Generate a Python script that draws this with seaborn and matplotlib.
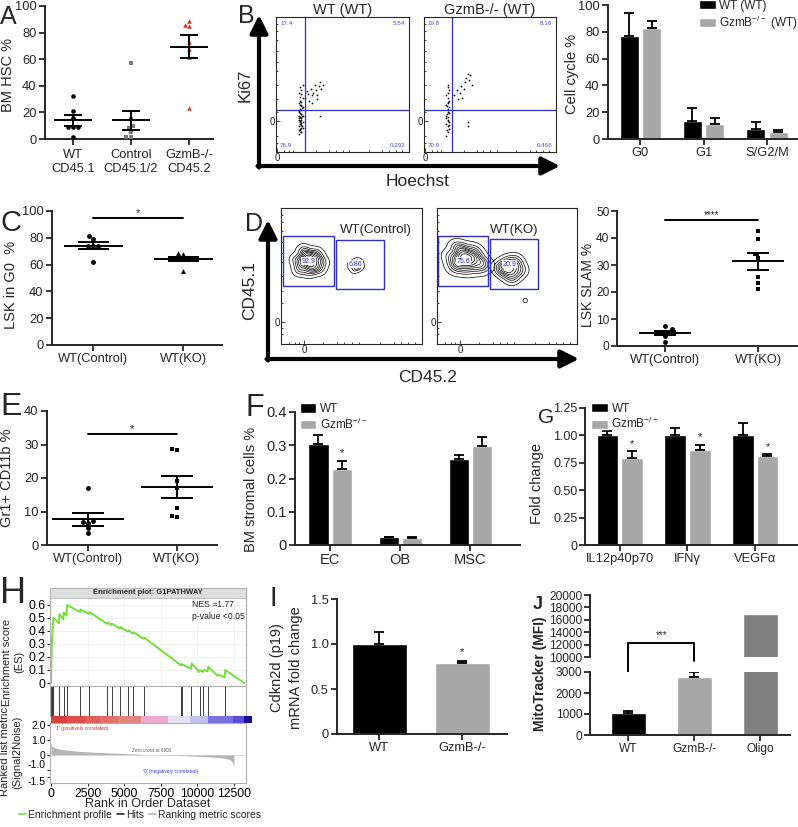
"""
Multi-panel GzmB / HSC figure (panels A-J).
"""

import matplotlib
matplotlib.use('Agg')
import matplotlib.pyplot as plt
from matplotlib.patches import Rectangle
from matplotlib.lines import Line2D
import seaborn as sns
import pandas as pd

sns.set_style("ticks")
plt.rcParams['font.family'] = ['Liberation Sans', 'DejaVu Sans']
plt.rcParams['mathtext.default'] = 'regular'
plt.rcParams['axes.linewidth'] = 1.3

BLACK = '#000000'
GRAY = '#a7a7a7'
DARK = '#808080'
RED = '#d6361c'
BLUE = '#3030c8'

# ---------------- data ----------------
# A: BM HSC %
a_labels = ['WT\nCD45.1', 'Control\nCD45.1/2', 'GzmB-/-\nCD45.2']
a_wt = [32, 21, 16, 9, 9, 9, 1.5]
a_ctrl = [57, 15, 10, 8, 5, 1.5, 1.5]
a_ko = [89, 86, 85, 73, 68, 62, 23]

# B: flow (Hoechst vs Ki67, axis fraction units) and quadrant percentages (UL, UR, LL, LR)
b_quads_wt = ['17.4', '5.54', '76.9', '0.292']
b_quads_ko = ['19.8', '8.16', '70.9', '0.466']
b_wt_hoechst = [0.17, 0.19, 0.18, 0.20, 0.17, 0.19, 0.18, 0.20, 0.18, 0.19, 0.17, 0.19,
                0.18, 0.20, 0.19, 0.18, 0.17, 0.19, 0.18, 0.20, 0.19, 0.18, 0.17, 0.19,
                0.18, 0.20, 0.18, 0.19, 0.17, 0.19, 0.18, 0.20, 0.18, 0.19, 0.17, 0.18,
                0.185, 0.175, 0.195, 0.185, 0.175, 0.195, 0.185, 0.175, 0.195, 0.185,
                0.22, 0.23, 0.25, 0.26, 0.27, 0.28, 0.29, 0.30, 0.31, 0.32, 0.33, 0.34,
                0.35, 0.24, 0.27, 0.31, 0.33]
b_wt_ki67 = [0.13, 0.15, 0.17, 0.18, 0.19, 0.20, 0.21, 0.22, 0.23, 0.24, 0.25, 0.25,
             0.26, 0.27, 0.28, 0.29, 0.30, 0.31, 0.32, 0.33, 0.34, 0.35, 0.36, 0.37,
             0.38, 0.40, 0.41, 0.43, 0.44, 0.46, 0.48, 0.50, 0.22, 0.18, 0.27, 0.16,
             0.145, 0.165, 0.195, 0.215, 0.235, 0.265, 0.285, 0.305, 0.325, 0.345,
             0.40, 0.45, 0.38, 0.47, 0.42, 0.44, 0.50, 0.46, 0.42, 0.49, 0.52, 0.47,
             0.50, 0.43, 0.36, 0.39, 0.27]
b_ko_hoechst = [0.17, 0.18, 0.19, 0.18, 0.17, 0.19, 0.18, 0.18, 0.17, 0.19, 0.18, 0.18,
                0.19, 0.17, 0.18, 0.19, 0.18, 0.17, 0.18, 0.19, 0.18, 0.18, 0.17, 0.19,
                0.175, 0.185, 0.175, 0.185, 0.175, 0.185,
                0.23, 0.25, 0.27, 0.28, 0.30, 0.31, 0.32, 0.33, 0.34, 0.35, 0.36, 0.26,
                0.29, 0.33, 0.33]
b_ko_ki67 = [0.12, 0.15, 0.17, 0.19, 0.21, 0.22, 0.24, 0.26, 0.27, 0.29, 0.30, 0.32,
             0.33, 0.35, 0.36, 0.38, 0.40, 0.42, 0.44, 0.46, 0.48, 0.50, 0.25, 0.20,
             0.16, 0.23, 0.28, 0.31, 0.34, 0.37,
             0.42, 0.46, 0.44, 0.49, 0.47, 0.52, 0.55, 0.58, 0.53, 0.57, 0.50, 0.39,
             0.40, 0.22, 0.19]

# B: cell cycle bars
b_phases = ['G0', 'G1', 'S/G2/M']
b_wt = [77, 13.5, 7.5]
b_wt_err = [17, 10, 5.5]
b_ko = [82.5, 11.5, 5]
b_ko_err = [5.5, 4.5, 1.5]

# C: LSK in G0
c_labels = ['WT(Control)', 'WT(KO)']
c_ctrl = [81, 79, 74, 74, 74, 62]
c_ko = [69, 68, 65, 64, 64, 64, 55]

# D: flow contours (CD45.2 vs CD45.1, axis fraction units)
d_ctrl_main_x = [0.20, 0.14, 0.26, 0.18, 0.23, 0.11, 0.29, 0.20, 0.16, 0.25, 0.21, 0.13, 0.27, 0.19, 0.22, 0.17]
d_ctrl_main_y = [0.61, 0.58, 0.63, 0.66, 0.56, 0.62, 0.60, 0.53, 0.69, 0.67, 0.64, 0.54, 0.55, 0.60, 0.59, 0.62]
d_ctrl_minor_x = [0.50, 0.53, 0.56, 0.52, 0.55, 0.54]
d_ctrl_minor_y = [0.58, 0.60, 0.57, 0.55, 0.60, 0.56]
d_ko_main_x = [0.20, 0.12, 0.28, 0.17, 0.24, 0.10, 0.32, 0.21, 0.15, 0.26, 0.19, 0.13, 0.30, 0.22, 0.18, 0.25, 0.16, 0.34]
d_ko_main_y = [0.64, 0.60, 0.66, 0.70, 0.58, 0.65, 0.61, 0.54, 0.72, 0.70, 0.66, 0.55, 0.55, 0.62, 0.63, 0.63, 0.59, 0.58]
d_ko_minor_x = [0.52, 0.47, 0.57, 0.50, 0.55, 0.44, 0.60, 0.53, 0.49, 0.56]
d_ko_minor_y = [0.56, 0.53, 0.58, 0.61, 0.51, 0.57, 0.54, 0.48, 0.55, 0.62]
d_ko_outlier = (0.63, 0.32)
d_gates_ctrl = [(0.017, 0.429, 0.377, 0.795), (0.389, 0.405, 0.727, 0.763)]
d_gates_ko = [(0.007, 0.429, 0.367, 0.795), (0.38, 0.405, 0.72, 0.771)]
d_pcts_ctrl = ['92.9', '6.86']
d_pcts_ko = ['75.6', '20.9']

# D: LSK SLAM %
d_ctrl = [7.4, 6.3, 5.3, 5.0, 3.8, 1.6]
d_ko = [42.7, 39.8, 34.0, 32.6, 25.6, 23.5, 21.2]

# E: Gr1+ CD11b %
e_ctrl = [17.1, 7.1, 6.9, 6.5, 5.0, 3.5]
e_ko = [28.8, 28.4, 19.2, 16.9, 10.9, 8.6, 8.4]

# F: BM stromal cells
f_cells = ['EC', 'OB', 'MSC']
f_wt = [0.305, 0.023, 0.258]
f_wt_err = [0.025, 0.002, 0.014]
f_ko = [0.23, 0.021, 0.299]
f_ko_err = [0.022, 0.002, 0.026]

# G: fold change
g_genes = ['IL12p40p70', 'IFNγ', 'VEGFα']
g_wt = [1.0, 1.0, 1.0]
g_wt_err = [0.037, 0.068, 0.113]
g_ko = [0.795, 0.868, 0.81]
g_ko_err = [0.061, 0.048, 0.021]

# H: GSEA G1PATHWAY
h_es_rank = [0, 50, 160, 540, 580, 840, 880, 1050, 1100, 1980, 2020, 2600, 2640, 3820,
             3860, 4120, 4160, 4700, 4740, 5250, 5290, 5600, 5640, 6320, 6360, 8880,
             8920, 9560, 9600, 10130, 10170, 10380, 10420, 10700, 10740, 11380, 11420,
             11860, 11900, 13200]
h_es = [0, 0.28, 0.50, 0.46, 0.53, 0.49, 0.54, 0.52, 0.60, 0.545, 0.565, 0.53, 0.545,
        0.455, 0.465, 0.445, 0.455, 0.42, 0.43, 0.395, 0.405, 0.38, 0.39, 0.34, 0.35,
        0.135, 0.145, 0.11, 0.15, 0.085, 0.10, 0.085, 0.10, 0.09, 0.125, 0.055, 0.065,
        0.045, 0.10, 0.0]
h_hits = [20, 45, 70, 95, 120, 145, 170, 560, 860, 1075, 2000, 2620, 3840, 4140, 4720,
          5270, 5620, 6340, 8900, 8950, 9580, 10150, 10400, 10720, 11880]
h_metric_rank = [0, 50, 200, 500, 1000, 2000, 3000, 4000, 5000, 6000, 6900, 8000, 9000,
                 10000, 11000, 11800, 12200, 12400, 12500]
h_metric = [0.8, 0.6, 0.48, 0.4, 0.32, 0.22, 0.17, 0.12, 0.08, 0.04, 0.0, -0.03, -0.06,
            -0.1, -0.15, -0.22, -0.32, -0.5, -0.85]
h_cbar_edges = [0, 1070, 2320, 3340, 4590, 6180, 8000, 9480, 10730, 12430, 13180, 13750]
h_cbar_colors = ['#d6403a', '#d9504a', '#dd605a', '#e07068', '#e2847c', '#ecaad0',
                 '#e4e0f6', '#c4c0ee', '#7b70e2', '#5a4cd8', '#1c0c9e']

# I: Cdkn2d
i_groups = ['WT', 'GzmB-/-']
i_vals = [1.0, 0.785]
i_err = [0.13, 0.03]

# J: MitoTracker
j_groups = ['WT', 'GzmB-/-', 'Oligo']
j_vals = [1050, 2780, 17000]
j_err = [80, 200, 0]
j_bracket = {'top': 12250, 'wt_leg': 1900, 'ko_leg': 9400}

# ---------------- helpers ----------------
W, H = 798, 827


def add_ax(fig, left, top, right, bottom):
    """Axes from a pixel box (origin top-left)."""
    return fig.add_axes([left / W, 1 - bottom / H, (right - left) / W, (bottom - top) / H])


def prism_axes(ax, labelsize=9.3):
    sns.despine(ax=ax)
    for s in ['left', 'bottom']:
        ax.spines[s].set_linewidth(1.4)
    ax.tick_params(axis='both', width=1.3, length=4, labelsize=labelsize, pad=2)
    ax.set_xlabel('')
    ax.set_ylabel('')


def dot_panel(ax, order, groups, markers, colors, size=3.4, mean_hw=0.33, sem_hw=0.15):
    rows = []
    for name, vals in zip(order, groups):
        rows += [(name, v) for v in vals]
    df = pd.DataFrame(rows, columns=['group', 'value'])
    for name, m, c in zip(order, markers, colors):
        sns.swarmplot(data=df[df['group'] == name], x='group', y='value', order=order,
                      marker=m, color=c, size=size, ax=ax)
    stats = df.groupby('group', sort=False)['value'].agg(['mean', 'sem'])
    for i, name in enumerate(order):
        mu, se = stats.loc[name, 'mean'], stats.loc[name, 'sem']
        ax.hlines(mu, i - mean_hw, i + mean_hw, color='black', lw=1.4, zorder=5)
        ax.hlines([mu - se, mu + se], i - sem_hw, i + sem_hw, color='black', lw=1.4, zorder=5)
        ax.vlines(i, mu - se, mu + se, color='black', lw=1.4, zorder=5)
    prism_axes(ax)


def sig_bar(ax, y, text, size=8):
    ax.plot([0, 1], [y, y], color='black', lw=1.4)
    ax.text(0.5, y, text, ha='center', va='bottom', fontsize=size)


def upper_errors(ax, bars, errs):
    tops = []
    for bar, e in zip(bars, errs):
        x = bar.get_x() + bar.get_width() / 2
        if e > 0:
            ax.errorbar(x, bar.get_height(), yerr=[[0], [e]], fmt='none', ecolor='black',
                        elinewidth=1.3, capsize=3.5, capthick=1.3, zorder=4)
        tops.append((x, bar.get_height() + e))
    return tops


def grouped_bars(ax, cats, wt, ko, wt_err, ko_err, names, width, gap):
    df = pd.DataFrame({'cat': cats + cats,
                       'group': [names[0]] * len(cats) + [names[1]] * len(cats),
                       'value': wt + ko})
    sns.barplot(data=df, x='cat', y='value', hue='group', palette=[BLACK, GRAY],
                width=width, gap=gap, errorbar=None, saturation=1, ax=ax)
    upper_errors(ax, ax.containers[0], wt_err)
    ko_tops = upper_errors(ax, ax.containers[1], ko_err)
    prism_axes(ax)
    return ko_tops


def bar_legend(ax, anchor):
    handles, labels = ax.get_legend_handles_labels()
    ax.legend(handles, labels, loc='upper left', bbox_to_anchor=anchor, frameon=False,
              fontsize=8.5, handlelength=1.4, handleheight=0.9, handletextpad=0.3,
              labelspacing=0.15, borderpad=0, borderaxespad=0)


def flow_axes(ax, x0, y0):
    ax.set_xlim(0, 1)
    ax.set_ylim(0, 1)
    ax.set_xticks([x0])
    ax.set_xticklabels(['0'])
    ax.set_yticks([y0])
    ax.set_yticklabels(['0'])
    ax.set_xticks([0.06, 0.1, 0.13, 0.3, 0.4, 0.45, 0.5, 0.55, 0.7, 0.8, 0.85, 0.9, 0.95], minor=True)
    ax.set_yticks([0.07, 0.12, 0.3, 0.39, 0.5, 0.6, 0.67, 0.75, 0.83, 0.9, 0.95], minor=True)
    ax.tick_params(which='both', direction='in', width=0.6, labelsize=7, pad=1)
    ax.tick_params(which='major', length=3)
    ax.tick_params(which='minor', length=1.5)
    for s in ax.spines.values():
        s.set_linewidth(0.8)
    ax.set_xlabel('')
    ax.set_ylabel('')


fig = plt.figure(figsize=(W / 100, H / 100), dpi=100)

# ---------------- A ----------------
ax_a = add_ax(fig, 45, 6, 213, 139)
dot_panel(ax_a, a_labels, [a_wt, a_ctrl, a_ko], ['o', 's', '^'], [BLACK, '#7a7a7a', RED], size=3.3)
ax_a.set_ylim(0, 100)
ax_a.set_yticks([0, 20, 40, 60, 80, 100])
ax_a.set_xlim(-0.48, 2.41)
ax_a.tick_params(axis='x', pad=3)

# ---------------- B flow ----------------
for box, title, hx, ky, quads in [((276, 17, 409, 152), 'WT (WT)', b_wt_hoechst, b_wt_ki67, b_quads_wt),
                                  ((424, 17, 556, 152), 'GzmB-/- (WT)', b_ko_hoechst, b_ko_ki67, b_quads_ko)]:
    ax = add_ax(fig, *box)
    sns.scatterplot(x=hx, y=ky, s=1.6, color='black', linewidth=0, ax=ax)
    ax.axvline(0.215, color=BLUE, lw=0.9)
    ax.axhline(0.31, color=BLUE, lw=0.9)
    for (tx, ty, ha, va), q in zip([(0.03, 0.97, 'left', 'top'), (0.97, 0.97, 'right', 'top'),
                                    (0.03, 0.03, 'left', 'bottom'), (0.97, 0.03, 'right', 'bottom')], quads):
        ax.text(tx, ty, q, ha=ha, va=va, fontsize=4.5, color='#4a4ae0')
    flow_axes(ax, 0.01, 0.23)
    ax.set_title(title, fontsize=10.5, pad=2)

# ---------------- B cell cycle ----------------
ax_bb = add_ax(fig, 608, 5, 798, 139)
grouped_bars(ax_bb, b_phases, b_wt, b_ko, b_wt_err, b_ko_err,
             ['WT (WT)', 'GzmB$^{-/-}$ (WT)'], width=0.71, gap=0.15)
ax_bb.set_ylim(0, 100)
ax_bb.set_yticks([0, 20, 40, 60, 80, 100])
ax_bb.set_xlim(-0.51, 2.49)
bar_legend(ax_bb, (0.48, 1.04))

# ---------------- C ----------------
ax_c = add_ax(fig, 52, 211, 222, 345)
dot_panel(ax_c, c_labels, [c_ctrl, c_ko], ['o', '^'], [BLACK, BLACK], size=3.5, sem_hw=0.17)
ax_c.set_ylim(0, 100)
ax_c.set_yticks([0, 20, 40, 60, 80, 100])
ax_c.set_xlim(-0.46, 1.43)
sig_bar(ax_c, 95, '*')

# ---------------- D flow ----------------
for box, label, main, minor, gates, pcts, in [
        ((281, 208, 422, 344), 'WT(Control)', (d_ctrl_main_x, d_ctrl_main_y),
         (d_ctrl_minor_x, d_ctrl_minor_y), d_gates_ctrl, d_pcts_ctrl),
        ((437, 208, 577, 344), 'WT(KO)', (d_ko_main_x, d_ko_main_y),
         (d_ko_minor_x, d_ko_minor_y), d_gates_ko, d_pcts_ko)]:
    ax = add_ax(fig, *box)
    sns.kdeplot(x=main[0], y=main[1], levels=10, thresh=0.04, bw_adjust=1.0,
                color='black', linewidths=0.5, ax=ax)
    n_minor = 4 if label == 'WT(Control)' else 8
    sns.kdeplot(x=minor[0], y=minor[1], levels=n_minor, thresh=0.08, bw_adjust=1.2,
                color='black', linewidths=0.5, ax=ax)
    for (x0, y0, x1, y1), pct in zip(gates, pcts):
        ax.add_patch(Rectangle((x0, y0), x1 - x0, y1 - y0, fill=False, edgecolor=BLUE, lw=1.0, zorder=4))
    ax.text(gates[0][0] + 0.18, 0.61, pcts[0], ha='center', va='center', fontsize=5, color=BLUE,
            bbox=dict(facecolor='white', edgecolor='none', pad=0.4), zorder=5)
    ax.text(gates[1][0] + 0.14, 0.585, pcts[1], ha='center', va='center', fontsize=5, color=BLUE,
            bbox=dict(facecolor='white', edgecolor='none', pad=0.4), zorder=5)
    ax.text(0.67 if label == 'WT(Control)' else 0.55, 0.84, label, ha='center', va='center', fontsize=9.5)
    if label == 'WT(KO)':
        ax.scatter([d_ko_outlier[0]], [d_ko_outlier[1]], s=10, facecolors='none', edgecolors='black', lw=0.5)
    flow_axes(ax, 0.166, 0.16)

# ---------------- D scatter ----------------
ax_d = add_ax(fig, 617, 211, 797, 346)
dot_panel(ax_d, c_labels, [d_ctrl, d_ko], ['o', 's'], [BLACK, BLACK], size=3.5, mean_hw=0.28, sem_hw=0.12)
ax_d.set_ylim(0, 50)
ax_d.set_yticks([0, 10, 20, 30, 40, 50])
ax_d.set_xlim(-0.52, 1.42)
ax_d.tick_params(axis='y', labelsize=8.6, pad=1.5)
sig_bar(ax_d, 46.6, '****', size=7)

# ---------------- E ----------------
ax_e = add_ax(fig, 47, 411, 217, 545)
dot_panel(ax_e, c_labels, [e_ctrl, e_ko], ['o', 's'], [BLACK, BLACK], size=3.5, mean_hw=0.4, sem_hw=0.18)
ax_e.set_ylim(0, 40)
ax_e.set_yticks([0, 10, 20, 30, 40])
ax_e.set_xlim(-0.46, 1.45)
sig_bar(ax_e, 33, '*')

# ---------------- F ----------------
ax_f = add_ax(fig, 295, 412, 520, 545)
f_tops = grouped_bars(ax_f, f_cells, f_wt, f_ko, f_wt_err, f_ko_err, ['WT', 'GzmB$^{-/-}$'],
                      width=0.66, gap=0.13)
ax_f.set_ylim(0, 0.4)
ax_f.set_yticks([0, 0.1, 0.2, 0.3, 0.4])
ax_f.set_yticklabels(['0', '0.1', '0.2', '0.3', '0.4'])
ax_f.tick_params(labelsize=10.5)
ax_f.set_xlim(-0.5, 2.71)
ax_f.text(f_tops[0][0], f_tops[0][1] + 0.008, '*', ha='center', va='bottom', fontsize=8)
bar_legend(ax_f, (0.02, 1.07))

# ---------------- G ----------------
ax_g = add_ax(fig, 585, 408, 798, 545)
g_tops = grouped_bars(ax_g, g_genes, g_wt, g_ko, g_wt_err, g_ko_err, ['WT', 'GzmB$^{-/-}$'],
                      width=0.72, gap=0.11)
ax_g.set_ylim(0, 1.25)
ax_g.set_yticks([0, 0.25, 0.5, 0.75, 1.0, 1.25])
ax_g.set_yticklabels(['0', '0.25', '0.50', '0.75', '1.00', '1.25'])
ax_g.tick_params(axis='y', labelsize=9, pad=1.5)
ax_g.set_xlim(-0.51, 2.63)
for x, top in g_tops:
    ax_g.text(x, top + 0.02, '*', ha='center', va='bottom', fontsize=8)
bar_legend(ax_g, (0.03, 1.04))

# ---------------- H (GSEA) ----------------
px_rank = (234 - 51) / 12500
xl = (-(51 - 50) / px_rank, -(51 - 50) / px_rank + (246 - 50) / px_rank)
rank_ticks = [0, 2500, 5000, 7500, 10000, 12500]

ax_es = add_ax(fig, 50, 588, 246, 686)
sns.lineplot(x=h_es_rank, y=h_es, color='#72de3c', lw=1.4, ax=ax_es)
ax_es.set_xlim(*xl)
ax_es.set_ylim(-0.023, 0.73)
ax_es.set_yticks([0, 0.1, 0.2, 0.3, 0.4, 0.5, 0.6])
ax_es.set_yticklabels(['0', '0.1', '0.2', '0.3', '0.4', '0.5', '0.6'])
ax_es.set_xticks(rank_ticks)
ax_es.tick_params(axis='x', length=0, labelbottom=False)
ax_es.grid(color='#ededed', lw=0.5)
ax_es.add_patch(Rectangle((0, 0.898), 1, 0.102, transform=ax_es.transAxes, facecolor='#dedede',
                          edgecolor='#b0b0b0', lw=0.5, zorder=3))
ax_es.text(0.5, 0.949, 'Enrichment plot: G1PATHWAY', transform=ax_es.transAxes, ha='center',
           va='center', fontsize=5.5, fontweight='bold', zorder=4)
ax_es.text(0.724, 0.878, 'NES =1.77\np-value <0.05', transform=ax_es.transAxes, ha='left',
           va='top', fontsize=6.2, linespacing=1.5)

ax_hits = add_ax(fig, 50, 686, 246, 716)
ax_hits.vlines(h_hits, 0, 1, color='#3c3c3c', lw=0.7)
ax_hits.set_xlim(*xl)
ax_hits.set_ylim(0, 1)
ax_hits.set_xticks([])
ax_hits.set_yticks([])

ax_cb = add_ax(fig, 50, 716, 253, 723)
cb_widths = [b - a for a, b in zip(h_cbar_edges[:-1], h_cbar_edges[1:])]
ax_cb.bar(h_cbar_edges[:-1], 1, width=cb_widths, align='edge', color=h_cbar_colors, linewidth=0)
ax_cb.set_xlim(xl[0], xl[0] + (253 - 50) / px_rank)
ax_cb.set_ylim(0, 1)
ax_cb.axis('off')

ax_rk = add_ax(fig, 50, 723, 246, 783)
ax_rk.fill_between(h_metric_rank, h_metric, 0, color='#b4b4b4', lw=0)
ax_rk.axhline(0, color='#c8c8c8', lw=0.4)
ax_rk.set_xlim(*xl)
ax_rk.set_ylim(-1.90, 2.135)
ax_rk.set_yticks([2.0, 1.0, 0, -1.0, -1.5])
ax_rk.set_yticklabels(['2.0', '1.0', '0', '-1.0', '-1.5'])
ax_rk.set_xticks(rank_ticks)
ax_rk.set_xticklabels([str(t) for t in rank_ticks])
ax_rk.set_xlabel('Rank in Order Dataset', fontsize=9, labelpad=-1)
ax_rk.text(300, 1.75, "'1' (positively correlated)", fontsize=3.5, color='#d03030', va='center')
ax_rk.text(6900, 0.18, 'Zero cross at 6900', fontsize=3.3, color='#606060', ha='center')
ax_rk.text(8200, -1.25, "'0' (negatively correlated)", fontsize=3.5, color='#4040d0', ha='center')

for ax in (ax_es, ax_hits, ax_rk):
    for s in ax.spines.values():
        s.set_color('#b0b0b0')
        s.set_linewidth(0.8)
    ax.tick_params(labelsize=8.8, length=2, width=0.6, pad=1.5, colors='black')
ax_rk.tick_params(axis='y', labelsize=7.5, pad=1)
# the two lowest labels sit very close; nudge them apart
rk_labels = ax_rk.get_yticklabels()
rk_labels[-1].set_va('top')
rk_labels[-2].set_va('bottom')

ax_rk.legend(handles=[Line2D([], [], color='#72de3c', lw=1.2),
                      Line2D([], [], color='#303030', lw=1.2),
                      Line2D([], [], color='#b4b4b4', lw=1.2)],
             labels=['Enrichment profile', 'Hits', 'Ranking metric scores'],
             loc='center', bbox_to_anchor=(0.46, -0.53), ncol=3, frameon=False, fontsize=7.5,
             handlelength=0.7, handletextpad=0.15, columnspacing=0.5)

# ---------------- I ----------------
ax_i = add_ax(fig, 337, 599, 507, 734)
sns.barplot(x=i_groups, y=i_vals, hue=i_groups, palette=[BLACK, GRAY], width=0.66,
            saturation=1, legend=False, ax=ax_i)
i_tops = upper_errors(ax_i, ax_i.patches, i_err)
prism_axes(ax_i)
ax_i.set_ylim(0, 1.5)
ax_i.set_yticks([0, 0.5, 1.0, 1.5])
ax_i.set_yticklabels(['0', '0.5', '1.0', '1.5'])
ax_i.set_xlim(-0.51, 1.54)
ax_i.text(i_tops[1][0], i_tops[1][1] + 0.04, '*', ha='center', va='bottom', fontsize=8)

# ---------------- J (broken axis) ----------------
ax_jt = add_ax(fig, 590, 595, 790, 657)
ax_jb = add_ax(fig, 590, 672, 790, 735)
for ax in (ax_jt, ax_jb):
    sns.barplot(x=j_groups, y=j_vals, hue=j_groups, palette=[BLACK, GRAY, DARK], width=0.53,
                saturation=1, legend=False, ax=ax)
    prism_axes(ax, labelsize=8.6)
    ax.tick_params(axis='y', pad=1.5)
    ax.set_xlim(-0.58, 2.45)
upper_errors(ax_jb, ax_jb.patches, j_err)
ax_jb.set_ylim(0, 3000)
ax_jb.set_yticks([0, 1000, 2000, 3000])
ax_jt.set_ylim(10000, 20000)
ax_jt.set_yticks([10000, 12000, 14000, 16000, 18000, 20000])
ax_jt.spines['bottom'].set_visible(False)
ax_jt.tick_params(axis='x', bottom=False, labelbottom=False)
wt_leg = ax_jt.transData.inverted().transform(
    ax_jb.transData.transform((0, j_bracket['wt_leg'])))[1]
ax_jt.plot([0, 0, 1, 1], [wt_leg, j_bracket['top'], j_bracket['top'], j_bracket['ko_leg']],
           color='black', lw=1.4, clip_on=False, zorder=6)
ax_jt.text(0.5, j_bracket['top'] + 400, '***', ha='center', va='bottom', fontsize=7)

# ---------------- overlay: arrows, shared labels, panel letters ----------------
ov = fig.add_axes([0, 0, 1, 1])
ov.set_xlim(0, W)
ov.set_ylim(H, 0)
ov.axis('off')
ov.patch.set_alpha(0)

arrow = dict(arrowstyle='-|>,head_length=0.9,head_width=0.45', lw=3, color='black',
             shrinkA=0, shrinkB=0, mutation_scale=12)
ov.annotate('', xy=(259, 15), xytext=(259, 167.5), arrowprops=arrow)
ov.annotate('', xy=(560, 166), xytext=(257.5, 166), arrowprops=arrow)
ov.annotate('', xy=(268, 220), xytext=(268, 360.5), arrowprops=arrow)
ov.annotate('', xy=(579, 359), xytext=(266.5, 359), arrowprops=arrow)
ov.text(245, 85, 'Ki67', rotation=90, ha='center', va='center', fontsize=12)
ov.text(418, 182, 'Hoechst', ha='center', va='center', fontsize=12.5)
ov.text(250, 290, 'CD45.1', rotation=90, ha='center', va='center', fontsize=12.5)
ov.text(428, 377, 'CD45.2', ha='center', va='center', fontsize=12.5)

ylabels = [((8, 75), 'BM HSC %', 10.5), ((572, 74), 'Cell cycle %', 10.5),
           ((11, 285), 'LSK in G0  %', 10.5), ((588, 285), 'LSK SLAM %', 10),
           ((7, 478), 'Gr1+ CD11b %', 10.5), ((251, 489), 'BM stromal cells %', 10.5),
           ((537, 483), 'Fold change', 10.5),
           ((7, 662), 'Enrichment score', 8), ((19, 662), '(ES)', 8),
           ((5, 752), 'Ranked list metric', 8), ((17, 752), '(Signal2Noise)', 8),
           ((277, 668), 'Cdkn2d (p19)', 10.5), ((296, 668), 'mRNA fold change', 10.5)]
for (x, y), text, size in ylabels:
    ov.text(x, y, text, rotation=90, ha='center', va='center', fontsize=size)
ov.text(540, 674, 'MitoTracker (MFI)', rotation=90, ha='center', va='center', fontsize=10,
        fontweight='bold')

letters = [('A', 0, 5, 18), ('B', 238, 4, 18), ('C', 0, 209, 21), ('D', 245, 212, 18),
           ('E', 0, 392, 23), ('F', 246, 393, 22), ('G', 538, 408, 15), ('H', 0, 576, 26),
           ('I', 269, 586, 20), ('J', 533, 596, 13)]
for letter, x, y, size in letters:
    ov.text(x, y, letter, ha='left', va='top', fontsize=size,
            fontweight='bold' if letter == 'J' else 'normal')

plt.savefig('out.png', dpi=100)
plt.close()
